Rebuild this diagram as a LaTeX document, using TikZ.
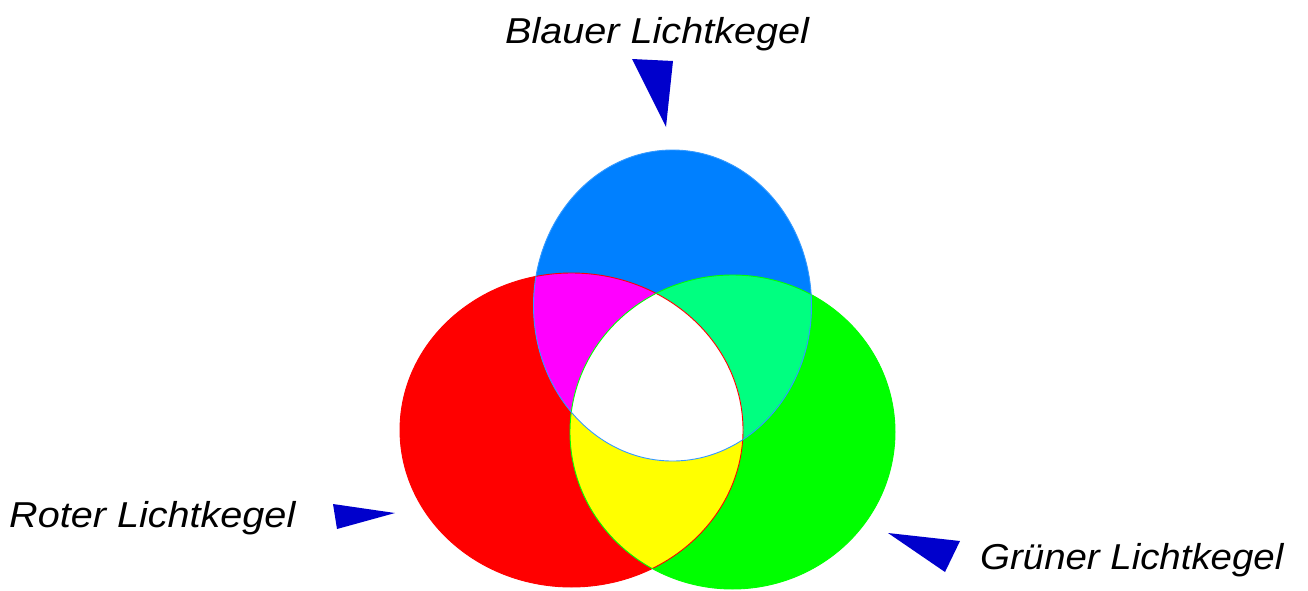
\documentclass[tikz,border=0pt]{standalone}
\usepackage{fontspec}
\setmainfont{Liberation Sans}
\definecolor{cred}{HTML}{FF0000}
\definecolor{cgreen}{HTML}{00FF00}
\definecolor{cblue}{HTML}{0080FF}
\definecolor{cmag}{HTML}{FF00FF}
\definecolor{ccyan}{HTML}{00FF80}
\definecolor{cyel}{HTML}{FFFF00}
\definecolor{cblueline}{HTML}{3399FF}
\definecolor{cptr}{HTML}{0000CC}
\tikzset{
  lbl/.style={font=\fontsize{36}{40}\selectfont\itshape, inner sep=0pt, anchor=base west, text=black, xscale=1.1},
  ptr/.style={fill=cptr, draw=none},
  rim/.style={line width=0.9pt}
}
\newcommand{\redE}{(571.5,430) ellipse [x radius=171.5, y radius=157]}
\newcommand{\greenE}{(732.5,432) ellipse [x radius=162.5, y radius=157]}
\newcommand{\blueE}{(672.5,305.5) ellipse [x radius=139, y radius=155.5]}
\begin{document}
\begin{tikzpicture}[x=1pt,y=-1pt]
\useasboundingbox[fill=white] (0,0) rectangle (1308,590);
% base fills
\fill[cred] \redE;
\fill[cgreen] \greenE;
\fill[cblue] \blueE;
% pairwise overlaps
\begin{scope}\clip \redE; \fill[cmag] \blueE; \end{scope}
\begin{scope}\clip \greenE; \fill[ccyan] \blueE; \end{scope}
\begin{scope}\clip \redE; \fill[cyel] \greenE; \end{scope}
\begin{scope}\clip \redE; \clip \greenE; \fill[white] \blueE; \end{scope}
% rims
\draw[rim, cred] \redE;
\draw[rim, cgreen] \greenE;
\draw[rim, cblueline] \blueE;
% labels
\node[lbl] (blau) at (505,43) {Blauer Lichtkegel};
\node[lbl] (rot) at (9,527) {Roter Lichtkegel};
\node[lbl, xscale=0.97] (gruen) at (980,569) {Grüner Lichtkegel};
% pointers
\fill[ptr] (632,59) -- (673,61) -- (666,127) -- cycle;
\fill[ptr] (333,504) -- (395,513) -- (337,529) -- cycle;
\fill[ptr] (888,533) -- (960,541) -- (945,572) -- cycle;
\end{tikzpicture}
\end{document}
